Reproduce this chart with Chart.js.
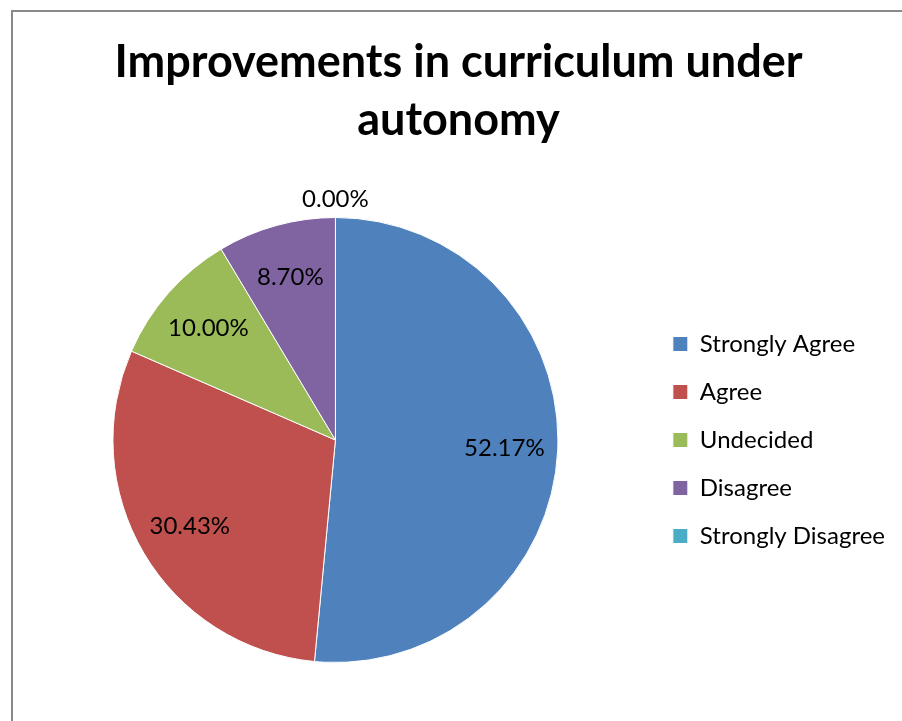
<!DOCTYPE html>
<html>
<head>
<meta charset="utf-8">
<script src="https://cdn.jsdelivr.net/npm/chart.js@4/dist/chart.umd.min.js"></script>
<style>
  html, body { margin: 0; padding: 0; background: #fff; overflow: hidden; }
  #frame {
    position: absolute; left: 11px; top: 10px;
    width: 1000px; height: 800px;
    border: 2px solid #898989;
  }
  #wrap { position: absolute; left: 0; top: 0; width: 902px; height: 721px; }
</style>
</head>
<body>
<div id="frame"></div>
<div id="wrap"><canvas id="pieChart"></canvas></div>
<script>
// Chart data
const TITLE_LINES = ['Improvements in curriculum under', 'autonomy'];
const CATEGORIES = ['Strongly Agree', 'Agree', 'Undecided', 'Disagree', 'Strongly Disagree'];
const PERCENTS = [52.17, 30.43, 10.00, 8.70, 0.00];
const COLORS = ['#4F81BD', '#C0504D', '#9BBB59', '#8064A2', '#4BACC6'];

const FONT = "Lato, 'Open Sans', sans-serif";

// Draws the percentage labels on the slices (zero slices go outside the pie)
const sliceLabels = {
    id: 'sliceLabels',
    afterDatasetsDraw(chart) {
        const ctx = chart.ctx;
        const meta = chart.getDatasetMeta(0);
        ctx.save();
        ctx.font = `24px ${FONT}`;
        ctx.fillStyle = '#000';
        ctx.textAlign = 'center';
        ctx.textBaseline = 'middle';
        meta.data.forEach((arc, i) => {
            const { x, y, startAngle, endAngle, outerRadius } = arc.getProps(
                ['x', 'y', 'startAngle', 'endAngle', 'outerRadius'], true);
            const mid = (startAngle + endAngle) / 2;
            const value = PERCENTS[i];
            const dist = value === 0 ? outerRadius + 18 : outerRadius * 0.76;
            ctx.fillText(value.toFixed(2) + '%', x + Math.cos(mid) * dist, y + Math.sin(mid) * dist);
        });
        ctx.restore();
    }
};

new Chart(document.getElementById('pieChart'), {
    type: 'pie',
    data: {
        labels: CATEGORIES,
        datasets: [{
            data: PERCENTS,
            backgroundColor: COLORS,
            borderColor: '#ffffff',
            borderWidth: 1
        }]
    },
    options: {
        responsive: true,
        maintainAspectRatio: false,
        animation: false,
        layout: { padding: { left: 22, right: 7, top: 0, bottom: 58 } },
        plugins: {
            title: {
                display: true,
                text: TITLE_LINES,
                color: '#000',
                font: { family: FONT, size: 45, weight: 'bold', lineHeight: 1.289 },
                padding: { top: 33, bottom: 68 }
            },
            legend: {
                position: 'right',
                fullSize: false,
                labels: {
                    color: '#000',
                    font: { family: FONT, size: 24 },
                    boxWidth: 15,
                    boxHeight: 15,
                    padding: 24
                }
            },
            tooltip: { enabled: false }
        }
    },
    plugins: [sliceLabels]
});
</script>
</body>
</html>
